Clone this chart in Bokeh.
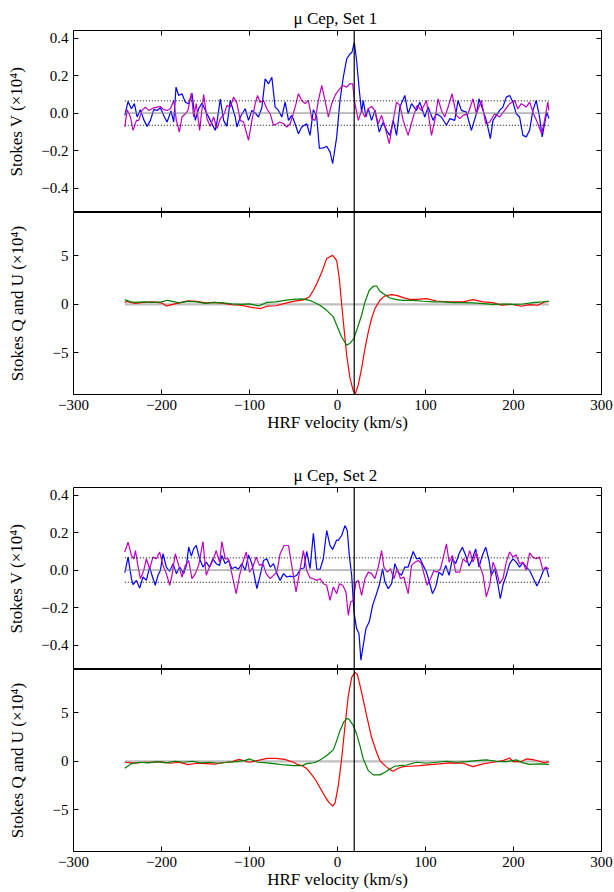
from bokeh.plotting import figure
from bokeh.layouts import column
from bokeh.models import Range1d, LinearAxis, FixedTicker, CustomJSTickFormatter, Span
from bokeh.embed import file_html
from bokeh.resources import INLINE

FONT = "Liberation Serif"

# ---------------- data ----------------
X_TICKS = [-300, -200, -100, 0, 100, 200, 300]
V_TICKS = [-0.4, -0.2, 0.0, 0.2, 0.4]
QU_TICKS = [-5, 0, 5]
X_LIM = (-300, 300)
V_LIM = (-0.53, 0.44)
QU_LIM = (-9.28, 9.44)
V_SYS = 19.0          # vertical reference velocity (km/s)
SIGMA_V = 0.065       # dotted noise level in Stokes V

TITLES = ["\u03bc Cep,  Set 1", "\u03bc Cep,  Set 2"]
XLABEL = "HRF velocity (km/s)"
YLABEL_V = "Stokes V (\u00d710\u2074)"
YLABEL_QU = "Stokes Q and U (\u00d710\u2074)"

# Set 1, Stokes V (velocity, value)
set1_blue = [(-241.7,-0.012),(-238,0.062),(-234.2,0.023),(-230.8,0.05),(-227.7,-0.021),(-224,0.018),(-220.2,-0.035),(-216.4,-0.071),(-212.6,-0.039),(-208.8,0.018),(-205,0.014),(-201.3,0.028),(-196.7,-0.021),(-193.7,-0.048),(-189.2,0.011),(-186.1,-0.048),(-183.5,0.138),(-180.5,0.094),(-176.7,0.103),(-172.9,0.058),(-169.1,0.05),(-165.4,0.106),(-161.6,-0.039),(-157.8,0.023),(-154,0.053),(-148.3,-0.004),(-144.6,-0.039),(-138.9,-0.092),(-137,-0.048),(-133.2,0.074),(-129.4,-0.039),(-125.7,-0.071),(-121.9,0.067),(-116.2,-0.021),(-114.3,-0.074),(-110.5,-0.021),(-104.9,0.023),(-101.1,-0.039),(-97.3,0.014),(-93.5,0.0),(-89.8,-0.021),(-86,0.028),(-82.2,0.182),(-78.4,0.156),(-74.6,0.191),(-70.9,0.032),(-67.1,0.014),(-63.3,-0.021),(-59.5,0.058),(-55.7,-0.039),(-52,-0.012),(-48.2,-0.057),(-44.4,-0.11),(-40.6,-0.074),(-35,-0.057),(-31.2,-0.119),(-27.4,0.018),(-23.6,-0.021),(-20.6,-0.189),(-16.1,-0.186),(-12.3,-0.177),(-8.5,-0.207),(-5.5,-0.269),(-0.9,-0.127),(2.8,0.067),(6.6,0.191),(10.4,0.288),(14.2,0.315),(16.4,0.324),(19.1,0.377),(21.7,0.28),(24.8,0.12),(27.4,0.005),(29.3,0.067),(32.3,-0.021),(35,0.023),(38.7,-0.039),(42.5,0.014),(47.4,-0.101),(52,-0.048),(55.7,-0.092),(59.5,-0.119),(63.3,-0.039),(67.1,-0.119),(70.9,0.032),(76.5,0.094),(80.3,-0.004),(84.1,0.05),(89.8,0.014),(93.5,0.058),(99.2,-0.021),(103,0.032),(108.7,-0.039),(112.4,-0.004),(118.1,-0.021),(123.8,-0.065),(127.6,-0.03),(133.2,-0.039),(137,0.067),(140.8,0.014),(146.5,0.005),(152.1,-0.092),(157.8,-0.004),(160.8,0.076),(165.4,0.014),(169.1,-0.039),(173.7,-0.136),(176.7,-0.039),(180.5,-0.012),(184.2,0.014),(188,0.032),(191.8,0.085),(195.6,0.094),(199.4,0.058),(203.1,-0.004),(206.9,-0.021),(210.7,-0.119),(214.5,-0.127),(218.3,-0.092),(222,0.014),(225.8,0.067),(229.6,-0.021),(232.6,-0.127),(235.3,-0.057),(237.9,0.005),(240.2,-0.03)]
set1_magenta = [(-241.7,-0.074),(-239,0.018),(-235.3,-0.021),(-232.3,-0.092),(-228.5,-0.039),(-225.9,-0.039),(-222.1,0.014),(-218.3,0.032),(-214.5,0.014),(-208.8,0.028),(-205,0.032),(-201.3,0.035),(-197.5,0.018),(-193.7,0.014),(-189.9,0.023),(-186.1,0.067),(-183.1,-0.039),(-179.7,-0.101),(-176.7,-0.021),(-172.9,-0.004),(-169.9,0.014),(-166.1,0.106),(-163.5,-0.021),(-160.5,0.05),(-156.7,-0.092),(-152.1,0.099),(-148.3,-0.03),(-144.6,-0.071),(-140.8,-0.021),(-137,-0.083),(-133.2,-0.03),(-128.7,-0.004),(-125.7,0.041),(-121.9,0.032),(-118.1,0.085),(-114.3,0.053),(-110.5,-0.039),(-106.8,-0.048),(-101.1,-0.145),(-97.3,-0.039),(-93.5,0.05),(-90.9,0.094),(-87.9,0.058),(-84.1,0.067),(-80.3,0.023),(-76.5,-0.004),(-72.7,-0.065),(-68.9,-0.057),(-65.2,-0.048),(-61.4,-0.057),(-57.6,-0.074),(-53.8,-0.057),(-50.1,0.0),(-47.1,0.05),(-44.4,0.103),(-40.6,0.067),(-36.8,0.05),(-33.1,0.067),(-29.3,-0.03),(-25.5,-0.039),(-21.7,0.067),(-17.9,0.147),(-14.2,0.067),(-10.4,-0.021),(-6.6,0.05),(-2.8,0.094),(0.9,0.12),(5.9,0.147),(10.4,0.138),(14.2,0.156),(17.2,0.156),(19.8,0.05),(23.6,-0.039),(27.4,0.014),(31.2,-0.021),(35,0.023),(38.7,0.035),(42.5,0.014),(46.3,-0.057),(50.1,-0.012),(53.9,-0.074),(58.8,-0.163),(63.3,-0.039),(67.1,0.058),(70.9,0.041),(74.6,-0.039),(80.3,-0.119),(86,-0.021),(90.5,0.041),(95.4,0.014),(101.1,0.067),(106.8,-0.119),(110.6,-0.039),(114.3,0.076),(118.1,0.014),(121.9,-0.021),(125.7,0.032),(130.2,0.103),(135.1,-0.012),(138.9,-0.03),(142.7,-0.012),(148.3,-0.004),(154,0.076),(157.8,-0.004),(163.5,0.067),(168.4,-0.057),(172.9,-0.048),(178.6,-0.004),(184.2,-0.021),(189.9,0.014),(195.6,0.05),(201.3,0.067),(205,0.023),(208.8,0.05),(214.5,0.032),(218.3,0.058),(222.8,-0.004),(227.7,-0.057),(231.9,-0.11),(235.3,-0.039),(239,0.058),(240.2,0.014)]

# Set 1, Stokes Q (red) and U (green)
set1_red = [(-241.7,0.17),(-240,0.3),(-230,0.1),(-220,0.2),(-210,0.25),(-200,0.15),(-194.4,-0.17),(-180,0.15),(-170,0.35),(-160,0.3),(-150,0.15),(-140,0.2),(-130,0.1),(-120,-0.05),(-110,-0.1),(-99,-0.3),(-88,-0.45),(-80,-0.2),(-70,-0.15),(-60,0.1),(-50,0.3),(-38.8,0.45),(-32,0.75),(-27.4,1.44),(-23.6,2.1),(-17.9,3.3),(-12.3,4.7),(-5.5,5.03),(-0.9,4.5),(2.1,2.6),(5.9,-1.13),(10.4,-5.24),(14.2,-7.6),(17.9,-8.9),(20.2,-9.2),(23.6,-8.3),(27.4,-6.6),(31.2,-4.55),(35,-2.84),(38.7,-1.47),(42.5,-0.45),(48.2,0.41),(53.9,0.86),(61.4,0.99),(67.1,0.92),(74.6,0.68),(82.2,0.51),(89.8,0.51),(101.1,0.58),(112.4,0.34),(123.8,0.24),(135.1,0.24),(142.7,0.24),(154,0.48),(165.4,0.24),(176.7,0.17),(186.1,-0.1),(197.5,0.0),(208.8,-0.2),(218.3,-0.03),(227.7,-0.1),(235.3,0.24),(240.2,0.3)]
set1_green = [(-241.7,0.48),(-235,0.25),(-230,0.2),(-220,0.25),(-210,0.2),(-200,0.25),(-193,0.41),(-180,0.15),(-170,0.3),(-160,0.25),(-150,0.1),(-140,0.2),(-130,0.15),(-120,0.05),(-110,0.0),(-100,0.05),(-89.8,-0.17),(-80,0.2),(-70,0.25),(-60,0.4),(-50,0.5),(-40,0.55),(-32,0.41),(-27.4,0.24),(-20,-0.1),(-12.3,-0.62),(-8.5,-0.96),(-4.7,-1.3),(-0.9,-2.16),(4.7,-3.36),(10.4,-4.21),(14.2,-4.0),(18.7,-3.53),(23.6,-2.16),(27.4,-1.13),(31.2,0.24),(36.1,1.44),(40.6,1.85),(44.4,1.88),(48.2,1.34),(53.9,0.99),(59.5,0.65),(67.1,0.48),(74.6,0.41),(86,0.41),(97.3,0.31),(108.7,0.24),(120,0.24),(131.3,0.17),(142.7,0.17),(154,0.14),(165.4,0.07),(176.7,0.0),(188,0.03),(199.4,0.0),(210.7,0.03),(222,0.17),(233.4,0.24),(240.2,0.31)]

# Set 2, Stokes V
set2_blue = [(-241.7,-0.014),(-238,0.069),(-234.2,-0.046),(-232.3,-0.078),(-228.5,-0.055),(-224.8,-0.096),(-221,-0.037),(-217.2,-0.055),(-213.5,0.016),(-210.8,-0.028),(-207.1,-0.081),(-204,-0.028),(-201.3,-0.002),(-198.3,0.087),(-194.5,0.016),(-190.7,-0.007),(-186.9,0.034),(-183.1,-0.019),(-179.3,0.016),(-174.8,-0.019),(-171.7,0.025),(-169.1,0.122),(-166.1,0.074),(-163.5,0.113),(-160.5,0.131),(-156.7,0.06),(-152.9,0.016),(-149.2,0.042),(-145.4,0.016),(-141.6,0.06),(-137.8,0.034),(-134,0.025),(-131.4,0.078),(-127.6,0.034),(-123.8,0.051),(-120.1,0.007),(-116.2,0.016),(-112.5,0.004),(-108.7,0.034),(-104.9,-0.002),(-101.1,0.081),(-97.3,0.034),(-91.6,-0.099),(-87.9,-0.028),(-84.1,0.051),(-80.3,0.06),(-76.5,0.016),(-72.7,0.034),(-68.9,-0.019),(-65.2,-0.055),(-61.4,-0.019),(-57.6,-0.037),(-53.8,-0.032),(-50.1,-0.037),(-46.3,-0.028),(-41.8,0.007),(-38,0.011),(-35,0.099),(-31.2,0.007),(-27.4,0.196),(-23.6,0.004),(-19.8,0.004),(-16.1,0.06),(-12.3,0.211),(-8.5,0.13),(-5.5,0.11),(-1,0.16),(0.9,0.158),(4.7,0.184),(8.5,0.237),(11.1,0.211),(13.4,0.078),(16.1,-0.028),(18.7,-0.223),(21.7,-0.312),(24.4,-0.338),(26.6,-0.48),(29.3,-0.4),(32.3,-0.312),(36.1,-0.276),(39.9,-0.188),(43.7,-0.135),(47.4,-0.081),(51.3,0.007),(53.9,-0.064),(57.6,-0.099),(61.4,-0.073),(65.2,0.034),(68.9,-0.011),(72.7,-0.028),(76.5,0.016),(80.3,0.016),(86,0.099),(89.8,0.06),(93.5,0.064),(97.3,0.025),(101.1,-0.011),(104.9,-0.073),(107.9,-0.126),(111.6,-0.09),(115.4,-0.011),(119.2,-0.028),(123,0.025),(126.8,-0.028),(130.6,0.06),(134.3,0.034),(138.1,0.087),(141.9,0.122),(145.7,0.078),(149.5,0.021),(153.3,0.06),(157,0.113),(160.8,0.016),(164.6,0.078),(168.4,0.122),(172.2,0.051),(174.8,-0.028),(178.6,0.007),(182.4,-0.081),(185,-0.152),(188,-0.081),(191.8,-0.028),(195.6,0.034),(199.4,0.06),(203.1,0.042),(206.9,0.016),(210.7,0.039),(214.5,0.016),(218.3,-0.002),(222.8,-0.046),(226.6,-0.085),(230.4,-0.046),(234.1,-0.002),(237.2,0.016),(240.2,-0.037)]
set2_magenta = [(-241.7,0.096),(-238,0.149),(-234.2,0.078),(-231.5,0.06),(-229.6,0.104),(-226.9,0.025),(-224,-0.046),(-220.2,-0.002),(-217.2,0.06),(-213.5,0.007),(-209.7,0.069),(-205.9,0.06),(-202.1,0.096),(-198.3,0.025),(-194.5,-0.019),(-190.7,-0.081),(-188.1,-0.028),(-184.3,0.087),(-180.5,0.025),(-176.7,-0.037),(-172.9,0.025),(-169.1,0.051),(-165.4,-0.046),(-161.6,-0.019),(-157.8,0.025),(-152.9,0.152),(-149.2,-0.028),(-145.4,0.016),(-141.6,0.051),(-137.8,0.104),(-134,0.042),(-131.4,0.152),(-127.6,0.06),(-123.8,0.06),(-120.1,-0.019),(-115.1,-0.126),(-111.3,-0.028),(-107.5,0.042),(-103.7,0.096),(-100,-0.011),(-96.2,0.016),(-92.4,0.069),(-88.6,0.025),(-84.8,0.034),(-81,-0.019),(-76.5,-0.046),(-72.7,-0.028),(-68.9,-0.011),(-65.2,0.087),(-60.7,0.131),(-55.7,0.131),(-52,0.025),(-47.1,-0.117),(-42.5,0.007),(-38.7,0.104),(-35,-0.002),(-31.2,-0.042),(-27.4,-0.046),(-23.6,-0.055),(-19.8,-0.046),(-16.1,-0.073),(-12.3,-0.081),(-8.5,-0.161),(-4.7,-0.09),(-0.9,-0.126),(2.1,-0.073),(5.9,-0.081),(9.6,-0.117),(12.3,-0.241),(14.9,-0.17),(18,-0.161),(21,-0.064),(23.6,-0.055),(27.4,-0.135),(31.2,-0.046),(35,-0.011),(38.7,-0.019),(42.5,-0.046),(46.3,0.016),(50.1,0.104),(52.7,0.016),(56.5,-0.011),(60.3,0.007),(64.1,-0.046),(67.8,0.007),(71.6,-0.046),(75.4,-0.037),(80.3,-0.126),(84.1,0.025),(87.9,0.042),(91.7,0.051),(95.4,0.034),(99.2,-0.037),(101.9,-0.081),(105.7,-0.046),(109.5,-0.002),(113.2,-0.011),(117,0.007),(120.8,0.078),(123.8,0.14),(126.8,0.042),(130.6,0.078),(134.3,-0.011),(138.9,-0.011),(142.7,0.06),(146.5,0.042),(150.3,0.104),(154,0.042),(157.8,0.096),(161.6,0.025),(165.4,-0.028),(169.1,-0.143),(172.9,-0.081),(176.7,0.042),(180.5,-0.002),(184.2,-0.073),(188,-0.046),(191.8,0.042),(195.6,0.096),(199.4,0.069),(203.1,0.081),(206.9,0.034),(210.7,0.042),(214.5,-0.002),(218.3,0.092),(222,0.069),(225.8,0.06),(229.6,0.069),(233.4,-0.002),(236.4,0.016),(240.2,0.007)]

# Set 2, Stokes Q (red) and U (green)
set2_red = [(-241.7,-0.1),(-230,-0.2),(-220,-0.1),(-210,-0.1),(-200,-0.05),(-190,-0.2),(-180,-0.1),(-170,-0.35),(-160,-0.2),(-150,-0.25),(-140,-0.3),(-130,-0.15),(-120,-0.05),(-112,0.2),(-100,-0.1),(-90,0.1),(-80,0.3),(-70,0.3),(-60,0.2),(-50,-0.1),(-45,-0.35),(-40,-0.45),(-35,-0.75),(-30,-1.3),(-25,-1.9),(-20,-2.7),(-15,-3.5),(-10,-4.2),(-5.5,-4.62),(-2.8,-4.3),(0.9,-2.5),(4.7,0.24),(8.5,3.66),(12.3,6.75),(16.1,8.63),(19.8,9.14),(22.5,8.97),(27.4,7.09),(33.1,4.69),(38.7,2.47),(44.4,0.92),(48.2,0.07),(53.9,-0.45),(59.5,-0.86),(63.3,-1.03),(69,-0.72),(74.6,-0.55),(82.2,-0.51),(93.5,-0.45),(104.9,-0.34),(116.2,-0.27),(127.6,-0.17),(142.7,-0.2),(154,-0.55),(165.4,-0.27),(176.7,-0.1),(188,0.07),(195.6,0.34),(199.4,-0.03),(208.8,-0.03),(214.5,0.24),(222,0.17),(229.6,0.0),(235.3,-0.17),(240.2,-0.03)]
set2_green = [(-241.7,-0.72),(-235,-0.27),(-225,-0.1),(-215,-0.17),(-205,-0.03),(-195,-0.17),(-185,0.0),(-175,-0.1),(-165,0.0),(-155,-0.17),(-145,-0.1),(-135,-0.2),(-125,-0.1),(-115,-0.03),(-105,0.1),(-100,0.24),(-90,-0.1),(-80,-0.17),(-70,-0.27),(-60,-0.38),(-50,-0.45),(-40,-0.45),(-35,-0.24),(-30,-0.2),(-25,-0.1),(-20,0.14),(-15,0.41),(-10,0.75),(-4.7,1.2),(-0.9,2.12),(2.8,3.15),(7.4,4.08),(11.1,4.42),(13.4,4.28),(18,3.66),(21.7,2.81),(25.5,1.61),(29.3,0.24),(35,-0.96),(40.6,-1.4),(48.2,-1.4),(53.9,-1.13),(59.5,-0.79),(65.2,-0.51),(70.9,-0.45),(78.4,-0.38),(89.8,-0.1),(101.1,-0.2),(112.4,-0.1),(123.8,0.0),(135.1,-0.1),(146.5,-0.03),(157.8,0.07),(169.1,0.14),(180.5,0.0),(191.8,-0.03),(203.1,0.14),(210.7,-0.17),(218.3,-0.31),(229.6,-0.27),(240.2,-0.31)]

# ---------------- styling ----------------
BLUE, MAGENTA, RED, GREEN = "#0000ff", "#bf00bf", "#ff0000", "#008000"
LW = 1.2

def fmt(decimals):
    return CustomJSTickFormatter(
        code="return tick.toFixed(%d).replace('-', '\u2212');" % decimals)

BLANK = CustomJSTickFormatter(code="return '';")


def tick_axis(ticks, formatter=None, label=None, fixed=None, standoff=5):
    ax = LinearAxis(ticker=FixedTicker(ticks=ticks),
                    formatter=formatter if formatter is not None else BLANK,
                    major_tick_in=5, major_tick_out=0,
                    minor_tick_line_color=None,
                    major_tick_line_color="black", major_tick_line_width=1,
                    axis_line_color=None,
                    major_label_text_font=FONT,
                    major_label_text_font_size="15px",
                    major_label_text_color="black",
                    major_label_standoff=5)
    if fixed is not None:
        ax.fixed_location = fixed
        ax.major_label_standoff = 0
    if label is not None:
        ax.axis_label = label
        ax.axis_label_text_font = FONT
        ax.axis_label_text_font_size = "17px"
        ax.axis_label_text_font_style = "normal"
        ax.axis_label_text_color = "black"
        ax.axis_label_standoff = standoff
    return ax


def series(pairs):
    return [p[0] for p in pairs], [p[1] for p in pairs]


def base_figure(ylim, top, bottom):
    p = figure(frame_width=528, frame_height=182,
               x_range=Range1d(*X_LIM), y_range=Range1d(*ylim),
               x_axis_location=None, y_axis_location=None,
               output_backend="svg", toolbar_location=None,
               min_border_left=73, min_border_right=13,
               min_border_top=top, min_border_bottom=bottom,
               outline_line_color="black", outline_line_width=1,
               background_fill_color="white", border_fill_color="white")
    p.xgrid.visible = False
    p.ygrid.visible = False
    return p


def v_panel(title, blue, magenta):
    p = base_figure(V_LIM, 30, 0)
    p.title.text = title
    p.title.align = "center"
    p.title.text_font = FONT
    p.title.text_font_size = "17px"
    p.title.text_font_style = "normal"
    p.title.text_color = "black"
    p.title.standoff = 6
    p.add_layout(tick_axis(V_TICKS, fmt(1), YLABEL_V, standoff=12), "left")
    p.add_layout(tick_axis(V_TICKS, fixed=X_LIM[1]), "right")
    p.add_layout(tick_axis(X_TICKS, fixed=V_LIM[1]), "above")
    p.add_layout(tick_axis(X_TICKS, fixed=V_LIM[0]), "below")

    bx, by = series(blue)
    mx, my = series(magenta)
    p.line(bx, by, line_color=BLUE, line_width=LW)
    p.line(mx, my, line_color=MAGENTA, line_width=LW)
    x0, x1 = min(bx), max(bx)
    p.line([x0, x1], [0, 0], line_color="#808080", line_width=1)
    p.line([x0, x1], [SIGMA_V, SIGMA_V], line_color="black", line_width=1, line_dash="1 2")
    p.line([x0, x1], [-SIGMA_V, -SIGMA_V], line_color="black", line_width=1, line_dash="1 2")
    p.add_layout(Span(location=V_SYS, dimension="height", line_color="black", line_width=1.2))
    return p


def qu_panel(red, green, bottom):
    p = base_figure(QU_LIM, 0, bottom)
    p.add_layout(tick_axis(QU_TICKS, fmt(0), YLABEL_QU, standoff=23), "left")
    p.add_layout(tick_axis(QU_TICKS, fixed=X_LIM[1]), "right")
    p.add_layout(tick_axis(X_TICKS, fixed=QU_LIM[1]), "above")
    p.add_layout(tick_axis(X_TICKS, fmt(0), XLABEL, standoff=0), "below")

    rx, ry = series(red)
    gx, gy = series(green)
    x0, x1 = min(rx), max(rx)
    p.line([x0, x1], [0, 0], line_color="#bfbfbf", line_width=2.2)
    p.line(rx, ry, line_color=RED, line_width=LW)
    p.line(gx, gy, line_color=GREEN, line_width=LW)
    p.add_layout(Span(location=V_SYS, dimension="height", line_color="black", line_width=1.2))
    return p


p1 = v_panel(TITLES[0], set1_blue, set1_magenta)
p2 = qu_panel(set1_red, set1_green, 63)
p3 = v_panel(TITLES[1], set2_blue, set2_magenta)
p4 = qu_panel(set2_red, set2_green, 41)

layout = column(p1, p2, p3, p4, spacing=0)
open("out.html", "w").write(file_html(layout, INLINE))
